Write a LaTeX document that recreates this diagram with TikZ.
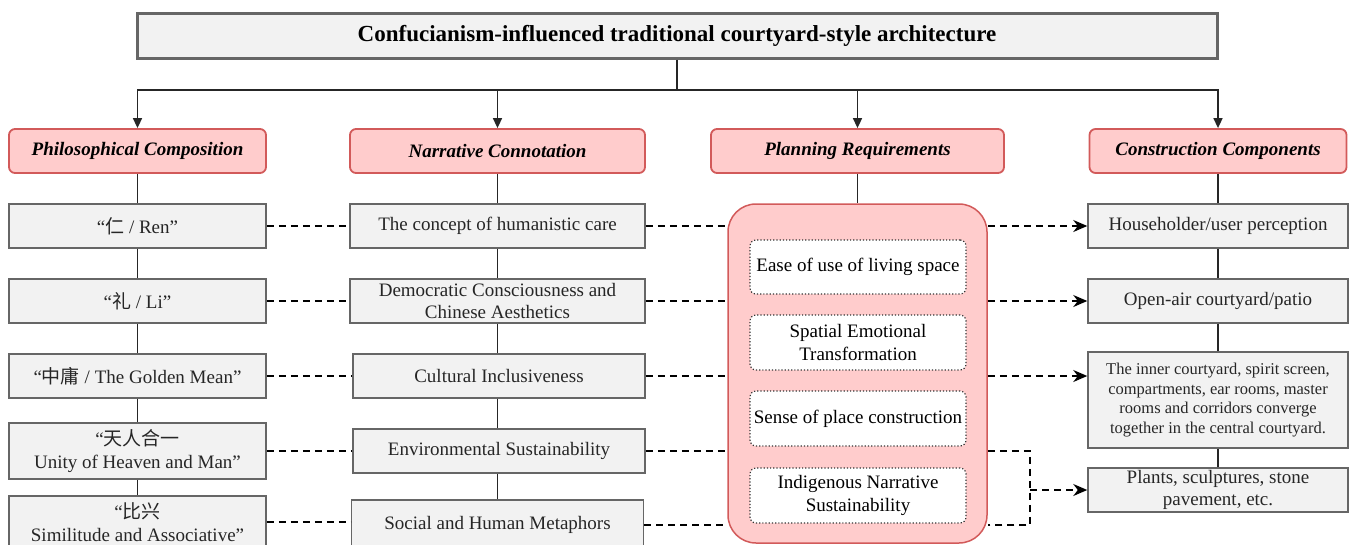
\documentclass[tikz,border=0pt]{standalone}
\usepackage{fontspec}
\setmainfont{Liberation Serif}
\newfontfamily\cjk{Noto Sans CJK SC}
\usetikzlibrary{arrows.meta}
\definecolor{boxfill}{HTML}{F2F2F2}
\definecolor{boxline}{HTML}{666666}
\definecolor{pinkfill}{HTML}{FFCCCC}
\definecolor{pinkline}{HTML}{D25A5A}
\tikzset{
  gbox/.style={draw=boxline, fill=boxfill, line width=1.5pt, inner sep=0pt, align=center,
    font=\fontsize{19}{22.5}\selectfont, text=black!85},
  titlebox/.style={draw=boxline, fill=boxfill, line width=3pt, inner sep=0pt,
    font=\fontsize{23}{26}\selectfont\bfseries},
  catbox/.style={draw=pinkline, fill=pinkfill, line width=1.8pt, rounded corners=6pt, inner sep=0pt,
    font=\fontsize{19}{22}\selectfont\bfseries\itshape, minimum height=44pt},
  bigbox/.style={draw=pinkline, fill=pinkfill, line width=1.5pt, rounded corners=28pt, inner sep=0pt},
  dotbox/.style={draw=black!80, fill=white, dotted, line width=1.2pt, rounded corners=6pt, inner sep=0pt,
    align=center, font=\fontsize{19}{22.5}\selectfont, minimum width=216pt},
  solidline/.style={draw=black!85, line width=1.6pt},
  dashline/.style={draw=black, line width=1.6pt, dash pattern=on 7pt off 5pt},
  dasharrow/.style={dashline, -{Stealth[length=14pt,width=12pt]}},
  catarrow/.style={solidline, -{Triangle[length=10pt,width=9pt]}},
}
\begin{document}
\begin{tikzpicture}[x=1pt,y=-1pt]
\useasboundingbox (0,0) rectangle (1351,544);
% title
\node[titlebox, minimum width=1080pt, minimum height=45pt] (title) at (677,35.5)
  {Confucianism-influenced traditional courtyard-style architecture};
% categories
\node[catbox, minimum width=257pt] (c1) at (137.5,151) {Philosophical Composition};
\node[catbox, minimum width=295pt] (c2) at (497.5,151) {Narrative Connotation};
\node[catbox, minimum width=293pt] (c3) at (857.5,151) {Planning Requirements};
\node[catbox, minimum width=257pt] (c4) at (1218,151) {Construction Components};
% title connectors
\coordinate (j) at (677,90);
\draw[solidline] (title.south) -- (j);
\draw[catarrow] (j) -| (c1.north);
\draw[catarrow] (j) -| (c2.north);
\draw[catarrow] (j) -| (c3.north);
\draw[catarrow] (j) -| (c4.north);
% column 1
\tikzset{w1/.style={gbox, minimum width=257pt}}
\node[w1, minimum height=44pt] (p1) at (137.5,226) {“{\cjk 仁} / Ren”};
\node[w1, minimum height=44pt] (p2) at (137.5,301) {“{\cjk 礼} / Li”};
\node[w1, minimum height=44pt] (p3) at (137.5,376) {“{\cjk 中庸} / The Golden Mean”};
\node[w1, minimum height=56pt] (p4) at (137.5,451) {“{\cjk 天人合一}\\Unity of Heaven and Man”};
\node[w1, minimum height=52pt] (p5) at (137.5,522) {“{\cjk 比兴}\\Similitude and Associative”};
% column 2
\tikzset{w2/.style={gbox, minimum width=295pt, minimum height=44pt}}
\node[w2] (n1) at (497.5,226) {The concept of humanistic care};
\node[w2] (n2) at (497.5,301) {Democratic Consciousness and\\Chinese Aesthetics};
\node[w2, minimum width=292pt] (n3) at (499,376) {Cultural Inclusiveness};
\node[w2, minimum width=292pt] (n4) at (499,451) {Environmental Sustainability};
\node[w2, minimum width=292pt, minimum height=50pt] (n5) at (497.5,525) {Social and Human Metaphors};
% column 4
\tikzset{w4/.style={gbox, minimum width=260pt, minimum height=44pt}}
\node[w4] (k1) at (1218,226) {Householder/user perception};
\node[w4] (k2) at (1218,301) {Open-air courtyard/patio};
\node[w4, minimum height=96pt, font=\fontsize{16.5}{19.5}\selectfont] (k3) at (1218,400)
  {The inner courtyard, spirit screen,\\compartments, ear rooms, master\\rooms and corridors converge\\together in the central courtyard.};
\node[w4] (k4) at (1218,490) {Plants, sculptures, stone\\pavement, etc.};
% big planning box
\node[bigbox, minimum width=259pt, minimum height=339pt] (big) at (857.5,373.5) {};
\node[dotbox, minimum height=54pt] (q1) at (858,267) {Ease of use of living space};
\node[dotbox, minimum height=55pt] (q2) at (858,342.5) {Spatial Emotional\\Transformation};
\node[dotbox, minimum height=55pt] (q3) at (858,418.5) {Sense of place construction};
\node[dotbox, minimum height=55pt] (q4) at (858,495.5) {Indigenous Narrative\\Sustainability};
% vertical connectors
\draw[solidline] (c1.south) -- (p1.north) (p1.south) -- (p2.north) (p2.south) -- (p3.north)
  (p3.south) -- (p4.north) (p4.south) -- (p5.north);
\draw[solidline] (c2.south) -- (n1.north) (n1.south) -- (n2.north) (n2.south) -- (n3.north -| n2.south)
  (n3.south -| n2.south) -- (n4.north -| n2.south) (n4.south -| n2.south) -- (n5.north -| n2.south);
\draw[solidline] (c3.south) -- (big.north);
\draw[solidline] (c4.south) -- (k1.north) (k1.south) -- (k2.north) (k2.south) -- (k3.north)
  (k3.south) -- (k4.north);
% dashed col1 -> col2
\draw[dashline] (p1.east) -- (n1.west);
\draw[dashline] (p2.east) -- (n2.west);
\draw[dashline] (p3.east) -- (n3.west);
\draw[dashline] (p4.east) -- (n4.west);
\draw[dashline] (p5.east) -- (p5.east -| n5.west);
% dashed col2 -> big
\draw[dashline] (n1.east) -- (n1.east -| big.west);
\draw[dashline] (n2.east) -- (n2.east -| big.west);
\draw[dashline] (n3.east) -- (n3.east -| big.west);
\draw[dashline] (n4.east) -- (n4.east -| big.west);
\draw[dashline] (n5.east) -- (n5.east -| big.west);
% dashed big -> col4
\draw[dasharrow] (n1.east -| big.east) -- (k1.west);
\draw[dasharrow] (n2.east -| big.east) -- (k2.west);
\draw[dasharrow] (n3.east -| big.east) -- (n3.east -| k3.west);
\coordinate (lx) at (1030,0);
\draw[dashline] (n4.east -| big.east) -- (n4.east -| lx) -- (n5.east -| lx) -- (n5.east -| big.east);
\draw[dasharrow] (lx |- k4.west) -- (k4.west);
\end{tikzpicture}
\end{document}
